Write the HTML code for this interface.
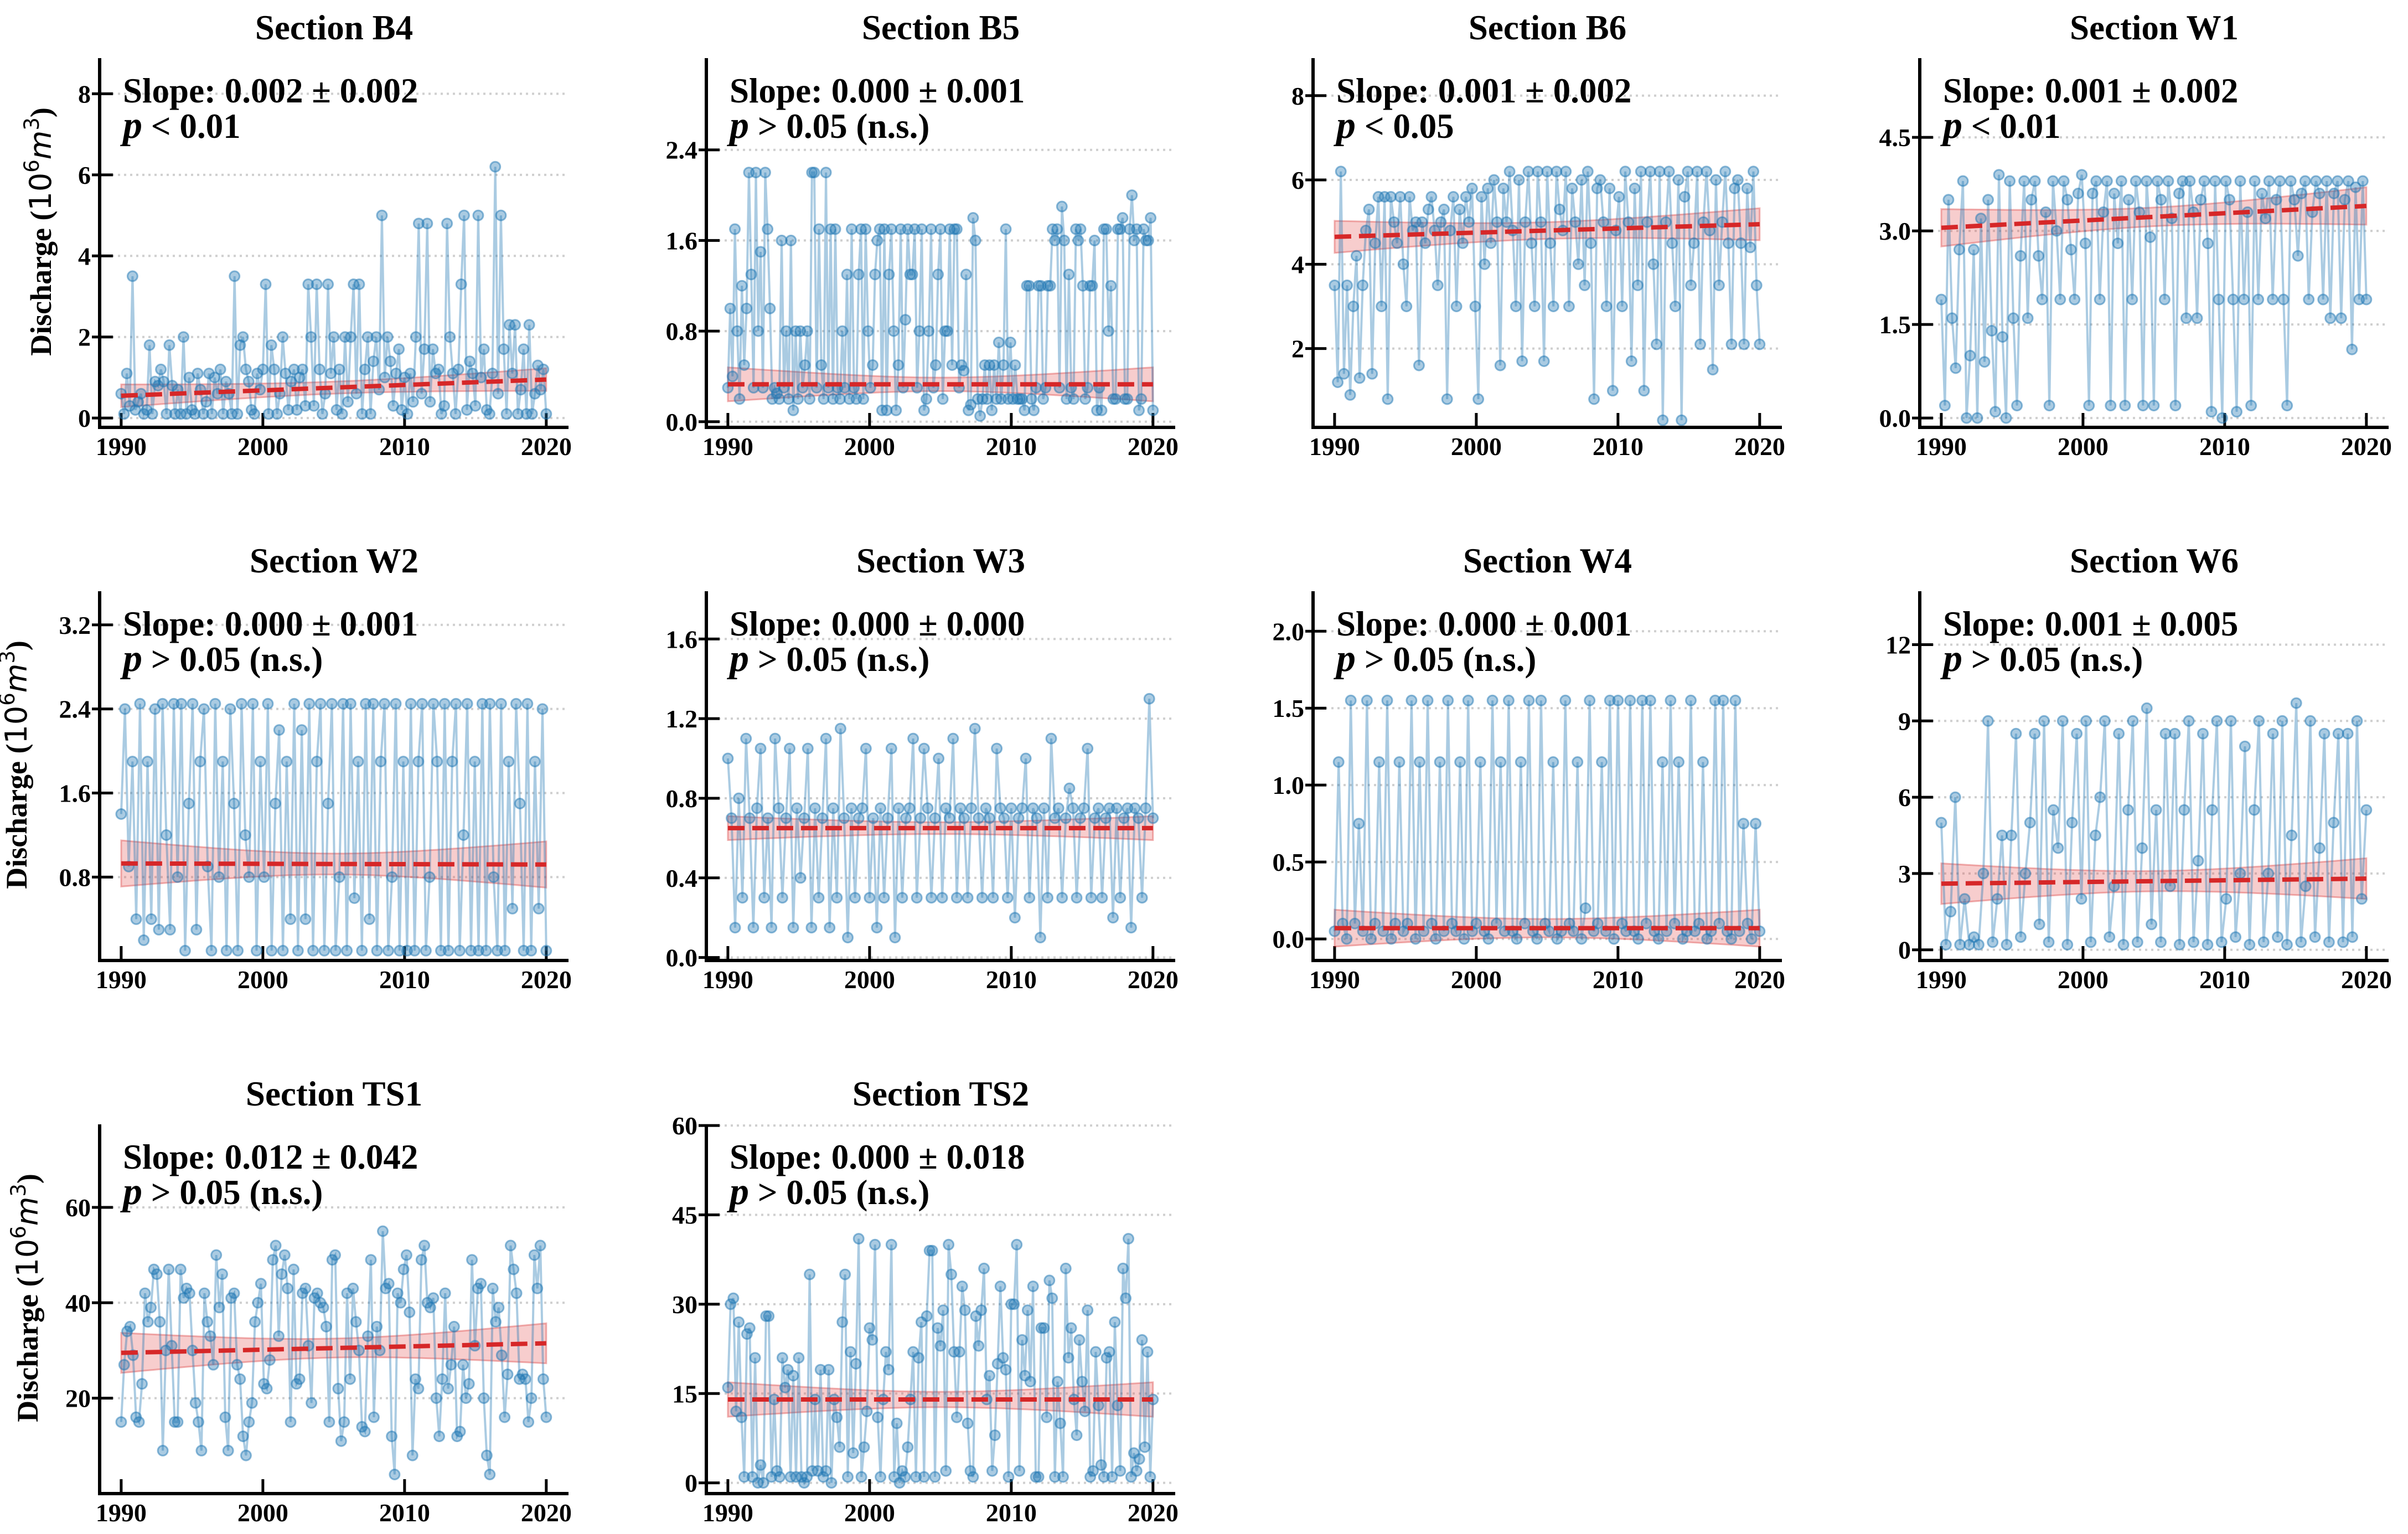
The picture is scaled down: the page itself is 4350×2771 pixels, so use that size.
<!DOCTYPE html>
<html><head><meta charset="utf-8"><title>Discharge trends</title>
<style>
html,body{margin:0;padding:0;background:#fff;}
svg{display:block;font-family:"Liberation Serif",serif;}
.tick{font-size:46px;font-weight:bold;fill:#000;}
.title{font-size:63px;font-weight:bold;fill:#000;}
.ann{font-size:63px;font-weight:bold;fill:#000;}
.ylab{font-size:54px;font-weight:bold;fill:#000;}
</style></head>
<body>
<svg id="fig" width="4350" height="2771" viewBox="0 0 4350 2771" xmlns="http://www.w3.org/2000/svg"></svg>
<script>
const panelNames = ["B4","B5","B6","W1","W2","W3","W4","W6","TS1","TS2"];
const slopeLabels = ["0.002 ± 0.002","0.000 ± 0.001","0.001 ± 0.002","0.001 ± 0.002","0.000 ± 0.001","0.000 ± 0.000","0.000 ± 0.001","0.001 ± 0.005","0.012 ± 0.042","0.000 ± 0.018"];
const pLabels = ["< 0.01","> 0.05 (n.s.)","< 0.05","< 0.01","> 0.05 (n.s.)","> 0.05 (n.s.)","> 0.05 (n.s.)","> 0.05 (n.s.)","> 0.05 (n.s.)","> 0.05 (n.s.)"];
const xTicks = [1990,2000,2010,2020];
const yTicksB4 = [0,2,4,6,8];
const yTicksB5 = [0.0,0.8,1.6,2.4];
const yTicksB6 = [2,4,6,8];
const yTicksW1 = [0.0,1.5,3.0,4.5];
const yTicksW2 = [0.8,1.6,2.4,3.2];
const yTicksW3 = [0.0,0.4,0.8,1.2,1.6];
const yTicksW4 = [0.0,0.5,1.0,1.5,2.0];
const yTicksW6 = [0,3,6,9,12];
const yTicksTS1 = [20,40,60];
const yTicksTS2 = [0,15,30,45,60];
const yDec = [0,1,0,1,1,1,1,0,0,0];
const yLims = [[-0.23,8.88],[-0.05,3.21],[0.13,8.89],[-0.15,5.77],[0.007,3.52],[-0.015,1.84],[-0.14,2.26],[-0.42,14.1],[0,77.4],[-1.8,60.2]];
const trendStart = [0.55,0.33,4.65,3.05,0.93,0.65,0.07,2.6,29.5,14.0];
const trendEnd = [0.95,0.33,4.95,3.4,0.92,0.65,0.07,2.8,31.5,14.0];
const bandEnd = [0.28,0.15,0.38,0.3,0.22,0.06,0.12,0.8,4.2,2.9];
const bandMid = [0.15,0.06,0.2,0.15,0.1,0.03,0.06,0.4,2.0,1.3];

const vB4 = [0.6,0.1,1.1,0.3,3.5,0.2,0.4,0.6,0.1,0.2,1.8,0.1,0.9,0.8,1.2,0.9,0.1,1.8,0.8,0.1,0.7,0.1,2.0,0.1,1.0,0.2,0.1,1.1,0.7,0.1,0.4,1.1,0.1,1.0,0.6,1.2,0.1,0.9,0.6,0.1,3.5,0.1,1.8,2.0,1.2,0.9,0.2,0.1,1.1,0.7,1.2,3.3,0.1,1.8,1.2,0.1,0.6,2.0,1.1,0.2,0.9,1.2,0.2,1.0,1.2,0.3,3.3,2.0,0.3,3.3,1.2,0.1,0.6,3.3,1.1,2.0,0.2,1.2,0.1,2.0,0.4,2.0,3.3,0.6,3.3,0.1,1.2,2.0,0.1,1.4,2.0,0.7,5.0,1.0,2.0,1.4,0.3,1.1,1.7,0.2,1.0,0.1,1.1,0.4,2.0,4.8,0.6,1.7,4.8,0.4,1.7,1.1,1.2,0.1,0.3,4.8,2.0,1.1,0.1,1.2,3.3,5.0,0.2,1.4,1.1,0.3,5.0,1.0,1.7,0.2,0.1,1.1,6.2,0.6,5.0,1.7,0.1,2.3,1.1,2.3,0.1,0.7,1.7,0.1,2.3,0.1,0.6,1.3,0.7,1.2,0.1];
const vB5 = [0.3,1.0,0.4,1.7,0.8,0.2,1.2,0.5,1.0,2.2,1.3,0.3,2.2,0.8,1.5,0.3,2.2,1.7,1.0,0.2,0.3,0.25,0.2,1.6,0.3,0.8,0.2,1.6,0.1,0.8,0.2,0.8,0.3,0.5,0.8,0.2,2.2,2.2,0.3,1.7,0.5,0.2,2.2,0.3,1.7,0.2,1.7,0.3,0.2,0.8,0.3,1.3,0.2,1.7,0.3,0.2,1.3,1.7,0.2,1.7,0.8,0.3,0.5,1.3,1.6,1.7,0.1,1.7,0.1,1.3,1.7,0.8,0.1,0.5,1.7,0.3,0.9,1.7,1.3,1.3,1.7,0.3,0.8,1.7,0.1,0.2,0.8,1.7,0.3,0.5,1.3,1.7,0.2,0.8,0.8,1.7,0.5,1.7,1.7,0.3,0.5,0.45,1.3,0.1,0.15,1.8,1.6,0.2,0.05,0.2,0.5,0.2,0.5,0.1,0.5,0.2,0.7,0.2,0.5,1.7,0.2,0.7,0.2,0.5,0.2,0.2,0.2,0.1,1.2,1.2,0.2,0.1,0.3,1.2,1.2,0.2,0.3,1.2,1.2,1.7,1.6,1.7,0.3,1.9,1.6,0.2,1.3,0.3,0.2,1.7,1.6,1.7,1.2,0.2,0.3,1.2,1.2,1.6,0.1,0.3,0.1,1.7,1.7,0.8,1.2,0.2,0.2,1.7,1.7,1.8,0.2,0.2,1.7,2.0,1.6,1.7,0.1,0.2,1.7,1.6,1.6,1.8,0.1];
const vB6 = [3.5,1.2,6.2,1.4,3.5,0.9,3.0,4.2,1.3,3.5,4.8,5.3,1.4,4.5,5.6,3.0,5.6,0.8,5.6,5.0,4.5,5.6,4.0,3.0,5.6,4.8,5.0,1.6,5.0,4.5,5.3,5.6,4.8,3.5,5.0,5.3,0.8,4.8,5.6,3.0,5.3,4.5,5.6,5.0,5.8,3.0,0.8,5.6,4.0,5.8,4.5,6.0,5.0,1.6,5.8,5.0,6.2,4.8,3.0,6.0,1.7,5.0,6.2,4.5,3.0,6.2,5.0,1.7,6.2,4.5,3.0,6.2,5.3,4.8,6.2,3.0,5.8,5.0,4.0,6.0,3.5,6.2,4.5,0.8,5.8,6.0,5.0,3.0,5.8,1.0,4.8,5.6,3.0,6.2,5.0,1.7,5.8,3.5,6.2,1.0,5.0,6.2,4.0,2.1,6.2,0.3,5.0,6.2,4.5,3.0,6.0,0.3,5.6,6.2,3.5,4.5,6.2,2.1,5.0,6.2,4.8,1.5,6.0,3.5,5.0,6.2,4.5,2.1,5.8,6.0,4.5,2.1,5.8,4.4,6.2,3.5,2.1];
const vW1 = [1.9,0.2,3.5,1.6,0.8,2.7,3.8,0.0,1.0,2.7,0.0,3.2,0.9,3.5,1.4,0.1,3.9,1.3,0.0,3.8,1.6,0.2,2.6,3.8,1.6,3.5,3.8,2.6,1.9,3.3,0.2,3.8,3.0,1.9,3.8,3.5,2.7,1.9,3.6,3.9,2.8,0.2,3.6,3.8,1.9,3.3,3.8,0.2,3.6,2.8,3.8,0.2,3.5,1.9,3.8,3.3,0.2,3.8,2.9,0.2,3.8,3.5,1.9,3.8,3.2,0.2,3.6,3.8,1.6,3.8,3.3,1.6,3.5,3.8,2.8,0.1,3.8,1.9,0.0,3.8,3.5,1.9,0.1,3.8,1.9,3.3,0.2,3.8,1.9,3.6,3.2,3.8,1.9,3.5,3.8,1.9,0.2,3.8,3.5,2.6,3.6,3.8,1.9,3.3,3.8,3.6,1.9,3.8,1.6,3.6,3.8,1.6,3.5,3.8,1.1,3.7,1.9,3.8,1.9];
const vW2 = [1.4,2.4,0.9,1.9,0.4,2.45,0.2,1.9,0.4,2.4,0.3,2.45,1.2,0.3,2.45,0.8,2.45,0.1,1.5,2.45,0.3,1.9,2.4,0.9,0.1,2.45,0.8,1.9,0.1,2.4,1.5,0.1,2.45,1.2,0.8,2.45,0.1,1.9,0.8,2.45,0.1,1.5,2.2,0.1,1.9,0.4,2.45,0.1,2.2,0.4,2.45,0.1,1.9,2.45,0.1,1.5,2.45,0.1,0.8,2.45,0.1,2.45,0.6,1.9,0.1,2.45,0.4,2.45,0.1,1.9,2.45,0.1,0.8,2.45,0.1,1.9,0.1,2.45,0.1,1.9,2.45,0.1,0.8,2.45,1.9,0.1,2.45,0.1,1.9,2.45,0.1,1.2,2.45,0.1,1.9,0.1,2.45,0.1,2.45,0.8,0.1,2.45,0.1,1.9,0.5,2.45,1.5,0.1,2.45,0.1,1.9,0.5,2.4,0.1];
const vW3 = [1.0,0.7,0.15,0.8,0.3,1.1,0.7,0.15,0.75,1.05,0.3,0.7,0.15,1.1,0.75,0.3,0.7,1.05,0.15,0.75,0.4,0.7,1.05,0.15,0.75,0.3,0.7,1.1,0.15,0.75,0.3,1.15,0.7,0.1,0.75,0.3,0.7,0.75,1.05,0.3,0.7,0.15,0.75,0.3,0.7,1.05,0.1,0.75,0.3,0.7,0.75,1.1,0.3,0.7,1.05,0.75,0.3,0.7,1.0,0.3,0.75,0.7,1.1,0.3,0.75,0.7,0.3,0.75,1.15,0.7,0.3,0.75,0.7,0.3,1.05,0.75,0.7,0.3,0.75,0.2,0.7,0.75,1.0,0.3,0.75,0.7,0.1,0.75,0.3,1.1,0.7,0.75,0.3,0.7,0.85,0.75,0.3,0.7,0.75,1.05,0.3,0.7,0.75,0.3,0.7,0.75,0.2,0.75,0.3,0.7,0.75,0.15,0.75,0.7,0.3,0.75,1.3,0.7];
const vW4 = [0.05,1.15,0.1,0.0,1.55,0.1,0.75,0.05,1.55,0.0,0.1,1.15,0.05,1.55,0.0,0.1,1.15,0.05,0.1,1.55,0.0,1.15,0.05,1.55,0.1,0.0,1.15,0.05,1.55,0.1,0.05,1.15,0.0,1.55,0.05,0.1,1.15,0.05,0.0,1.55,0.1,1.15,0.05,1.55,0.05,0.0,1.15,0.1,1.55,0.05,0.0,1.55,0.1,0.05,1.15,0.0,0.05,1.55,0.1,0.05,1.15,0.0,0.2,1.55,0.05,0.1,1.15,0.05,1.55,0.0,1.55,0.1,0.05,1.55,0.05,0.0,1.55,0.1,1.55,0.05,0.0,1.15,0.05,1.55,0.1,1.15,0.0,0.05,1.55,0.05,0.1,1.15,0.0,0.05,1.55,0.1,1.55,0.05,0.0,1.55,0.05,0.75,0.1,0.0,0.75,0.05];
const vW6 = [5.0,0.2,1.5,6.0,0.2,2.0,0.2,0.5,0.2,3.0,9.0,0.3,2.0,4.5,0.2,4.5,8.5,0.5,3.0,5.0,8.5,1.0,9.0,0.3,5.5,4.0,9.0,0.2,5.0,8.5,2.0,9.0,0.3,4.5,6.0,9.0,0.5,2.5,8.5,0.2,5.5,9.0,0.3,4.0,9.5,1.0,5.5,0.3,8.5,2.5,8.5,0.2,5.5,9.0,0.3,3.5,8.5,0.2,5.5,9.0,0.3,2.0,9.0,0.5,3.0,8.0,0.2,5.5,9.0,0.3,3.0,8.5,0.5,9.0,0.2,4.5,9.7,0.3,2.5,9.0,0.5,4.0,8.5,0.3,5.0,8.5,0.3,8.5,0.5,9.0,2.0,5.5];
const vTS1 = [15,27,34,35,29,16,15,23,42,36,39,47,46,36,9,30,47,31,15,15,47,41,43,42,30,19,15,9,42,36,33,27,50,39,46,16,9,41,42,27,24,12,8,15,19,36,40,44,23,22,28,49,52,33,46,50,43,15,47,23,24,42,43,31,19,41,42,40,39,35,15,49,50,22,11,15,42,24,43,36,30,14,13,33,49,16,35,30,55,43,44,12,4,42,40,47,50,38,8,24,22,49,52,40,39,41,20,12,24,42,22,27,35,12,13,27,20,23,49,31,43,44,20,8,4,43,36,39,29,16,25,52,47,42,24,25,24,15,20,50,43,52,24,16];
const vTS2 = [16,30,31,12,27,11,1,25,26,1,21,0,3,0,28,28,1,14,2,1,21,16,19,1,18,1,21,1,0,1,35,2,14,2,19,1,2,19,0,14,11,6,27,35,1,22,5,20,41,1,6,12,26,24,40,11,1,14,22,19,40,1,10,0,2,1,6,14,22,1,21,27,1,28,39,39,1,26,23,29,2,40,35,22,11,22,33,29,10,2,1,28,23,29,36,14,18,2,8,20,33,21,19,1,30,30,40,2,24,18,29,17,33,1,1,26,26,11,34,31,1,17,10,1,36,21,26,14,8,24,17,12,29,1,2,22,13,3,1,21,22,1,27,13,2,36,31,41,1,5,2,4,24,6,22,1,14];

const series = [vB4,vB5,vB6,vW1,vW2,vW3,vW4,vW6,vTS1,vTS2];
const yTickSets = [yTicksB4,yTicksB5,yTicksB6,yTicksW1,yTicksW2,yTicksW3,yTicksW4,yTicksW6,yTicksTS1,yTicksTS2];
const yearStart = 1990, yearEnd = 2020;

const NS = "http://www.w3.org/2000/svg";
const svg = document.getElementById("fig");
function mk(tag, attrs, parent){
  const e = document.createElementNS(NS, tag);
  for (const k in attrs) e.setAttribute(k, attrs[k]);
  (parent||svg).appendChild(e);
  return e;
}
const colLeft = [180,1276,2372,3468];
const rowTop = [105,1068,2031];
const AW = 847, AH = 667;
const XMIN = 1988.48, XMAX = 2021.57;
const ylabX = [92,48,68];

panelNames.forEach((name, p) => {
  const r = Math.floor(p/4), c = p%4;
  const L = colLeft[c], T = rowTop[r], B = T+AH;
  const [y0,y1] = yLims[p];
  const xs = v => L + (v-XMIN)/(XMAX-XMIN)*AW;
  const ys = v => B - (v-y0)/(y1-y0)*AH;
  const g = mk("g",{});
  
  

  yTickSets[p].forEach(t => {
    const y = ys(t);
    const gl = mk("line",{x1:L,x2:L+AW,y1:y,y2:y,stroke:"#cfcfcf","stroke-width":4,"stroke-dasharray":"4 7"},g);
    
    
    const tk = mk("line",{x1:L-14,x2:L+24,y1:y,y2:y,stroke:"#000","stroke-width":5},g);
    
    
    const tl = mk("text",{x:L-16,y:y+16,"text-anchor":"end",class:"tick"},g);
    tl.textContent = t.toFixed(yDec[p]);
    
    
  });
  xTicks.forEach(t => {
    const x = xs(t);
    const tk = mk("line",{x1:x,x2:x,y1:B,y2:B-26,stroke:"#000","stroke-width":5},g);
    
    
    const tl = mk("text",{x:x,y:B+50,"text-anchor":"middle",class:"tick"},g);
    tl.textContent = t;
    
    
  });

  const N = 40, up = [], lo = [];
  const mid = (yearStart+yearEnd)/2, half = (yearEnd-yearStart)/2;
  for (let i=0;i<=N;i++){
    const t = yearStart + (yearEnd-yearStart)*i/N;
    const f = (t-mid)/half;
    const yv = trendStart[p] + (trendEnd[p]-trendStart[p])*(t-yearStart)/(yearEnd-yearStart);
    const hw = Math.sqrt(bandMid[p]*bandMid[p] + (bandEnd[p]*bandEnd[p]-bandMid[p]*bandMid[p])*f*f);
    up.push(xs(t).toFixed(1)+","+ys(yv+hw).toFixed(1));
    lo.unshift(xs(t).toFixed(1)+","+ys(yv-hw).toFixed(1));
  }
  const band = mk("polygon",{points:up.concat(lo).join(" "),fill:"#e34a4a","fill-opacity":0.28,stroke:"#d62728","stroke-opacity":0.35,"stroke-width":3},g);
  
  

  const vals = series[p], n = vals.length;
  const pts = vals.map((v,i) => [xs(yearStart + (yearEnd-yearStart)*i/(n-1)), ys(v)]);
  const line = mk("polyline",{points:pts.map(q=>q[0].toFixed(1)+","+q[1].toFixed(1)).join(" "),fill:"none",stroke:"#1f77b4","stroke-opacity":0.38,"stroke-width":4},g);
  
  
  pts.forEach(q => {
    const m = mk("circle",{cx:q[0].toFixed(1),cy:q[1].toFixed(1),r:9,fill:"#1f77b4","fill-opacity":0.38,stroke:"#1f77b4","stroke-opacity":0.5,"stroke-width":3},g);
    
    
  });

  const tr = mk("line",{x1:xs(yearStart),x2:xs(yearEnd),y1:ys(trendStart[p]),y2:ys(trendEnd[p]),stroke:"#d62728","stroke-width":8,"stroke-dasharray":"30 14"},g);
  
  

  const sp = mk("path",{d:`M${L},${T} L${L},${B} L${L+AW},${B}`,fill:"none",stroke:"#000","stroke-width":6},g);
  
  

  const ti = mk("text",{x:L+AW/2,y:T-34,"text-anchor":"middle",class:"title"},g);
  ti.textContent = "Section " + name;
  
  

  const a1 = mk("text",{x:L+42,y:T+80,class:"ann"},g);
  a1.textContent = "Slope: " + slopeLabels[p];
  
  
  const a2 = mk("text",{x:L+42,y:T+144,class:"ann"},g);
  const ip = mk("tspan",{"font-style":"italic","font-size":"70px"},a2);
  ip.textContent = "p";
  const rest = mk("tspan",{},a2);
  rest.textContent = " " + pLabels[p];
  
  

  if (c === 0){
    const cy = T + AH/2 - 20, cx = ylabX[r];
    const yl = mk("text",{x:cx,y:cy,"text-anchor":"middle",class:"ylab",transform:`rotate(-90 ${cx} ${cy})`},g);
    const s1 = mk("tspan",{},yl); s1.textContent = "Discharge (";
    const s2 = mk("tspan",{"font-family":"DejaVu Sans, sans-serif","font-weight":"normal"},yl); s2.textContent = "10";
    const s3 = mk("tspan",{"font-family":"DejaVu Sans, sans-serif","font-weight":"normal","font-size":"37px",dy:"-22"},yl); s3.textContent = "6";
    const s4 = mk("tspan",{"font-family":"DejaVu Sans, sans-serif","font-weight":"normal","font-style":"italic",dy:"22"},yl); s4.textContent = "m";
    const s5 = mk("tspan",{"font-family":"DejaVu Sans, sans-serif","font-weight":"normal","font-size":"37px",dy:"-22"},yl); s5.textContent = "3";
    const s6 = mk("tspan",{dy:"22"},yl); s6.textContent = ")";
    
    
  }
});
</script>
</body></html>
